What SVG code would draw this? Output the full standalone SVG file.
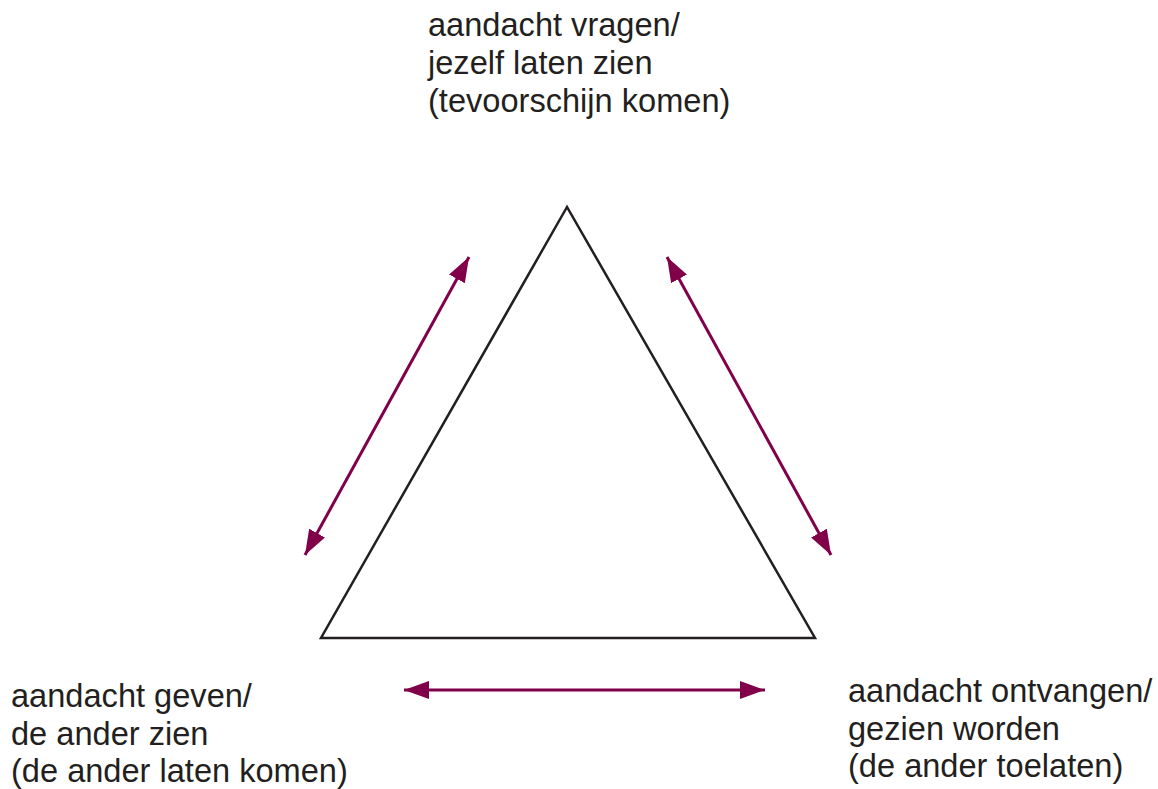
<svg xmlns="http://www.w3.org/2000/svg" width="1158" height="789" viewBox="0 0 1158 789">
<defs>
<style>
.lbl{font-family:"Liberation Sans",Arial,sans-serif;font-size:32.6px;fill:#231f20}
.arr{stroke:#80004a;stroke-width:3;fill:none;marker-start:url(#ah);marker-end:url(#ah)}
</style>
<marker id="ah" viewBox="0 0 25 18" refX="25" refY="9" markerWidth="25" markerHeight="18" markerUnits="userSpaceOnUse" orient="auto-start-reverse">
<path d="M0,0 L25,9 L0,18 Z" fill="#80004a"/>
</marker>
</defs>
<rect width="1158" height="789" fill="#fff"/>
<g id="triangle">
<polygon points="567,207 321,638 815,638" fill="none" stroke="#231f20" stroke-width="2.5" stroke-linejoin="miter"/>
</g>
<g id="connectors">
<line class="arr" x1="305" y1="555" x2="469" y2="257"/>
<line class="arr" x1="667" y1="257" x2="831" y2="555"/>
<line class="arr" x1="404" y1="690" x2="765" y2="690"/>
</g>
<g id="node-top">
<text class="lbl" x="428" y="36">aandacht vragen/</text>
<text class="lbl" x="428" y="74">jezelf laten zien</text>
<text class="lbl" x="428" y="112">(tevoorschijn komen)</text>
</g>
<g id="node-left">
<text class="lbl" x="11" y="707">aandacht geven/</text>
<text class="lbl" x="11" y="745">de ander zien</text>
<text class="lbl" x="11" y="782">(de ander laten komen)</text>
</g>
<g id="node-right">
<text class="lbl" x="848" y="702">aandacht ontvangen/</text>
<text class="lbl" x="848" y="740">gezien worden</text>
<text class="lbl" x="848" y="777">(de ander toelaten)</text>
</g>
</svg>
